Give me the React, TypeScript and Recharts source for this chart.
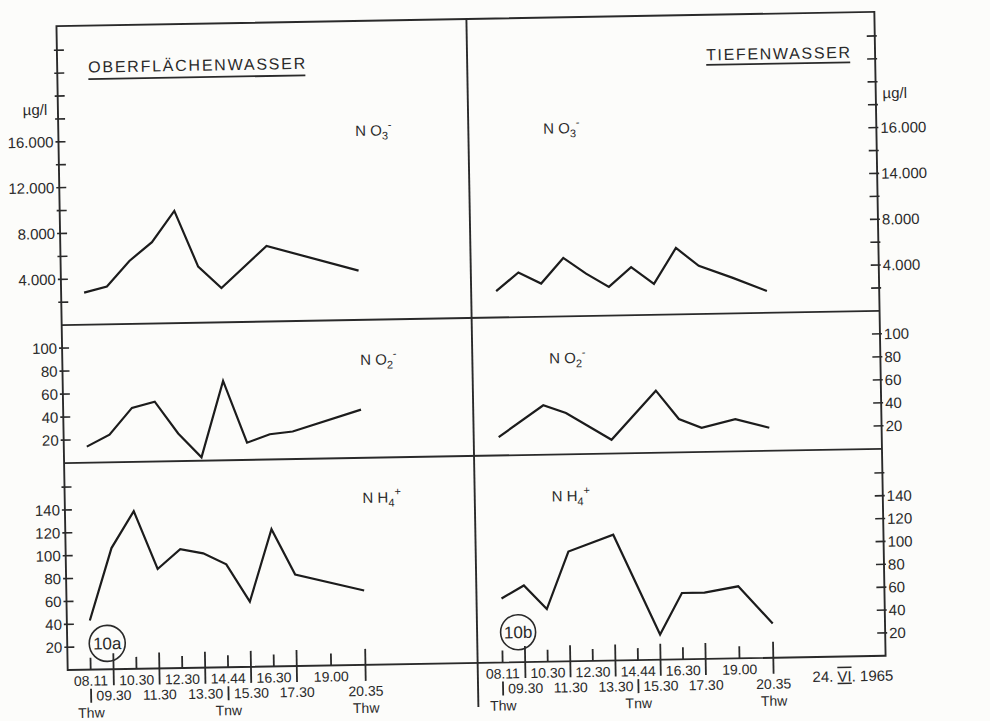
import { LineChart, Line, XAxis, YAxis } from "recharts"

// sampling times on 24.VI.1965 and their slot on the time axis
const TIMES = ["08.11", "09.30", "10.30", "11.30", "12.30", "13.30", "14.44", "15.30", "16.30", "17.30", "19.00", "20.35"]
const SLOTS = [0, 1, 2, 3, 4, 5, 6, 7, 8, 9, 10.5, 12]
const TIDES = ["Thw", "", "", "", "", "", "Tnw", "", "", "", "", "Thw"]
// the upper left panels have no mark at 19.00
const SLOTS_NO_1900 = [0, 1, 2, 3, 4, 5, 6, 7, 8, 9, 12]

// µg/l, null = no vertex drawn at that time
const NO3_SURFACE = [2800, 3300, 5500, 7100, 9800, 4900, 3000, null, 6600, null, null, 4300]
const NO3_DEEP = [2300, 3900, 2900, 5100, 3700, 2500, 4200, 2700, 5800, 4200, 3100, 1900]
const NO2_SURFACE = [14, 24, 47, 52, 24, 3, 69, 15, 22, 24, null, 42]
const NO2_DEEP = [16, null, 43, 36, null, 12, null, 54, 29, 21, 28, 20]
const NH4_SURFACE = [43, 106, 138, 87, 104, 100, 90, 57, 120, 80, null, 65]
const NH4_DEEP = [56, 67, 46, 96, null, 110, null, 22, 58, 58, 63, 30]

const NO3_TICKS = [2000, 4000, 6000, 8000, 10000, 12000, 14000, 16000, 18000, 20000, 22000, 24000]
const NO3_LABELS_LEFT = ["", "4.000", "", "8.000", "", "12.000", "", "16.000", "", "", "", ""]
const NO3_LABELS_RIGHT = ["", "4.000", "", "8.000", "", "14.000", "", "16.000", "", "", "", ""]
const NO2_TICKS = [20, 40, 60, 80, 100]
const NO2_LABELS = ["20", "40", "60", "80", "100"]
const NH4_TICKS = [20, 40, 60, 80, 100, 120, 140, 160]
const NH4_LABELS = ["20", "40", "60", "80", "100", "120", "140", ""]

const FONT = "'Liberation Sans', Arial, sans-serif"
const INK = "#2a2a2a"

// frame geometry
const FRAME_L = 62
const DIV_X = 472
const FRAME_R = 880
const ROWS = [19, 318, 456, 663]

function innerXTick(props: any) {
  const { x, y } = props
  return <line x1={x} x2={x} y1={y - 3} y2={y - 11} stroke={INK} strokeWidth={1.6} />
}

function timeTick(props: any) {
  const { x, y, payload } = props
  const i = SLOTS.indexOf(payload.value)
  const odd = i % 2 === 1
  const tide = TIDES[i]
  return (
    <g fontFamily={FONT} fill={INK}>
      <line x1={x} x2={x} y1={odd ? y - 16 : y - 12} y2={odd ? y + 16 : y} stroke={INK} strokeWidth={1.8} />
      {tide && !odd && <line x1={x} x2={x} y1={y + 19} y2={y + 33} stroke={INK} strokeWidth={1.8} />}
      <text x={x} y={odd ? y + 31 : y + 16} textAnchor="middle" fontSize={14}>
        {TIMES[i]}
      </text>
      {tide && (
        <text x={x} y={y + 48} textAnchor="middle" fontSize={14}>
          {tide}
        </text>
      )}
    </g>
  )
}

function yTick(kind: "left" | "right" | "cross", ticks: number[], labels: string[]) {
  return (props: any) => {
    const { x, y, payload } = props
    const lbl = labels[ticks.indexOf(payload.value)] || ""
    const x1 = kind === "left" ? x - 3 : x - 8
    const x2 = kind === "right" ? x + 2 : kind === "left" ? x + 7 : x + 8
    return (
      <g>
        <line x1={x1} x2={x2} y1={y} y2={y} stroke={INK} strokeWidth={1.6} />
        {lbl && kind !== "cross" && (
          <text
            x={kind === "left" ? x - 5 : x + 4}
            y={y}
            dy="0.36em"
            textAnchor={kind === "left" ? "end" : "start"}
            fontSize={15}
            fontFamily={FONT}
            fill={INK}
          >
            {lbl}
          </text>
        )}
      </g>
    )
  }
}

type PanelProps = {
  side: "left" | "right"
  row: number
  values: (number | null)[]
  yMax: number
  yTicks: number[]
  yLabels: string[]
  xSlots: number[]
  bottom?: boolean
}

function Panel({ side, row, values, yMax, yTicks, yLabels, xSlots, bottom }: PanelProps) {
  const top = ROWS[row]
  const h = ROWS[row + 1] - ROWS[row]
  const isLeft = side === "left"
  const plotL = isLeft ? FRAME_L : DIV_X
  const plotR = isLeft ? DIV_X : FRAME_R
  const width = isLeft ? DIV_X : 990 - DIV_X
  const x0 = isLeft ? 85 : 497
  const step = isLeft ? 22.9 : 22.56
  const xh = bottom ? 60 : 0
  const data = SLOTS.map((s, i) => ({ slot: s, v: values[i] }))
  return (
    <div style={{ position: "absolute", left: isLeft ? 0 : DIV_X, top }}>
      <LineChart width={width} height={h + xh} data={data} margin={{ top: 0, right: 0, bottom: 0, left: 0 }}>
        <XAxis
          type="number"
          dataKey="slot"
          domain={[(plotL - x0) / step, (plotR - x0) / step]}
          allowDataOverflow
          ticks={xSlots}
          interval={0}
          height={xh}
          axisLine={false}
          tickLine={false}
          tickSize={0}
          tickMargin={0}
          tick={bottom ? timeTick : innerXTick}
        />
        {isLeft && (
          <YAxis
            yAxisId="v"
            orientation="left"
            type="number"
            width={FRAME_L}
            domain={[0, yMax]}
            allowDataOverflow
            ticks={yTicks}
            interval={0}
            axisLine={false}
            tickLine={false}
            tickSize={0}
            tickMargin={0}
            tick={yTick("left", yTicks, yLabels)}
          />
        )}
        {!isLeft && (
          <YAxis
            yAxisId="d"
            orientation="left"
            type="number"
            width={0}
            domain={[0, yMax]}
            allowDataOverflow
            ticks={yTicks}
            interval={0}
            axisLine={false}
            tickLine={false}
            tickSize={0}
            tickMargin={0}
            tick={yTick("cross", yTicks, yLabels)}
          />
        )}
        {!isLeft && (
          <YAxis
            yAxisId="v"
            orientation="right"
            type="number"
            width={width - (FRAME_R - DIV_X)}
            domain={[0, yMax]}
            allowDataOverflow
            ticks={yTicks}
            interval={0}
            axisLine={false}
            tickLine={false}
            tickSize={0}
            tickMargin={0}
            tick={yTick("right", yTicks, yLabels)}
          />
        )}
        <Line
          yAxisId="v"
          type="linear"
          dataKey="v"
          stroke="#1c1c1c"
          strokeWidth={2.2}
          dot={false}
          connectNulls
          isAnimationActive={false}
        />
      </LineChart>
    </div>
  )
}

function Ion({ x, y, base, sub, sup }: { x: number; y: number; base: string; sub: string; sup: string }) {
  return (
    <text x={x} y={y + 5} textAnchor="middle" fontSize={15} fontFamily={FONT} fill={INK}>
      {base}
      <tspan fontSize={11} dy={4}>
        {sub}
      </tspan>
      <tspan fontSize={11} dy={-11}>
        {sup}
      </tspan>
    </text>
  )
}

function Overlay() {
  const sw = 1.9
  return (
    <svg width={990} height={721} style={{ position: "absolute", left: 0, top: 0, pointerEvents: "none" }}>
      {/* frame */}
      <rect x={FRAME_L} y={ROWS[0]} width={FRAME_R - FRAME_L} height={ROWS[3] - ROWS[0]} fill="none" stroke={INK} strokeWidth={sw} />
      <line x1={DIV_X} x2={DIV_X} y1={ROWS[0]} y2={707} stroke={INK} strokeWidth={sw} />
      <line x1={FRAME_L} x2={FRAME_R} y1={ROWS[1]} y2={ROWS[1]} stroke={INK} strokeWidth={sw} />
      <line x1={FRAME_L} x2={FRAME_R} y1={ROWS[2]} y2={ROWS[2]} stroke={INK} strokeWidth={sw} />

      <g fontFamily={FONT} fill={INK}>
        <text x={93} y={66} fontSize={16} textLength={217} lengthAdjust="spacing">
          OBERFLÄCHENWASSER
        </text>
        <line x1={93} x2={310} y1={72.5} y2={72.5} stroke={INK} strokeWidth={1.8} />
        <text x={711} y={64.5} fontSize={16} textLength={144} lengthAdjust="spacing">
          TIEFENWASSER
        </text>
        <line x1={711} x2={855} y1={69} y2={69} stroke={INK} strokeWidth={1.8} />

        <text x={39} y={107.5} textAnchor="middle" fontSize={15}>
          µg/l
        </text>
        <text x={899} y={105.5} textAnchor="middle" fontSize={15}>
          µg/l
        </text>

        <circle cx={102} cy={637} r={18} fill="none" stroke={INK} strokeWidth={1.6} />
        <text x={102} y={643} textAnchor="middle" fontSize={17}>
          10a
        </text>
        <circle cx={513} cy={633} r={17.5} fill="none" stroke={INK} strokeWidth={1.6} />
        <text x={513} y={639} textAnchor="middle" fontSize={17}>
          10b
        </text>

        <text x={847} y={688} textAnchor="middle" fontSize={15}>
          24.{" "}
          <tspan style={{ textDecoration: "overline underline" }}>VI</tspan>. 1965
        </text>
      </g>

      <Ion x={377} y={129} base="N O" sub="3" sup="-" />
      <Ion x={565} y={130} base="N O" sub="3" sup="-" />
      <Ion x={378} y={358} base="N O" sub="2" sup="-" />
      <Ion x={567} y={360} base="N O" sub="2" sup="-" />
      <Ion x={379} y={496} base="N H" sub="4" sup="+" />
      <Ion x={568} y={498} base="N H" sub="4" sup="+" />
    </svg>
  )
}

export default function App() {
  return (
    <div style={{ position: "absolute", left: 0, top: 0, width: 990, height: 721, background: "#fcfcfa", overflow: "hidden" }}>
      <div
        style={{
          position: "absolute",
          left: 0,
          top: 0,
          width: 990,
          height: 721,
          transform: "rotate(-1deg)",
          transformOrigin: "470px 340px",
        }}
      >
        <Panel side="left" row={0} values={NO3_SURFACE} yMax={26100} yTicks={NO3_TICKS} yLabels={NO3_LABELS_LEFT} xSlots={SLOTS_NO_1900} />
        <Panel side="right" row={0} values={NO3_DEEP} yMax={26100} yTicks={NO3_TICKS} yLabels={NO3_LABELS_RIGHT} xSlots={SLOTS} />
        <Panel side="left" row={1} values={NO2_SURFACE} yMax={120} yTicks={NO2_TICKS} yLabels={NO2_LABELS} xSlots={SLOTS_NO_1900} />
        <Panel side="right" row={1} values={NO2_DEEP} yMax={120} yTicks={NO2_TICKS} yLabels={NO2_LABELS} xSlots={SLOTS} />
        <Panel side="left" row={2} values={NH4_SURFACE} yMax={181} yTicks={NH4_TICKS} yLabels={NH4_LABELS} xSlots={SLOTS} bottom />
        <Panel side="right" row={2} values={NH4_DEEP} yMax={181} yTicks={NH4_TICKS} yLabels={NH4_LABELS} xSlots={SLOTS} bottom />
        <Overlay />
      </div>
    </div>
  )
}
